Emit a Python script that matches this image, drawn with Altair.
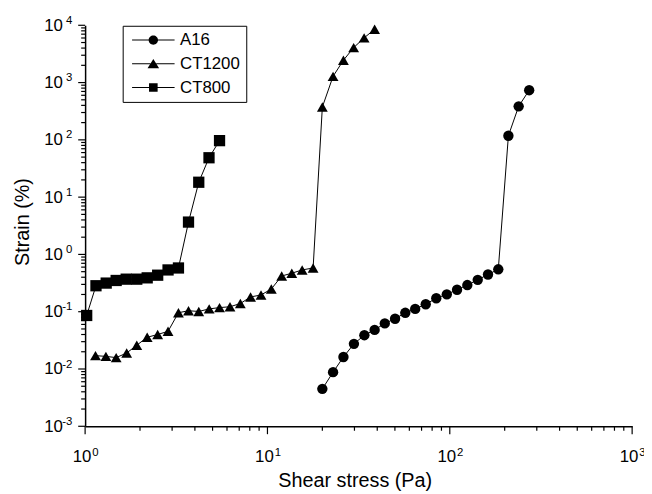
import altair as alt
import pandas as pd

# ---- data (shear stress in Pa, strain in %) ----
A16_x = [20.0, 22.9, 26.1, 29.8, 34.0, 38.7, 44.0, 50.1, 57.0, 64.6, 73.8, 84.3,
         96.3, 109.6, 124.8, 142.3, 162.0, 184.5, 209.6, 238.6, 272.5]
A16_y = [0.0045, 0.0088, 0.0162, 0.0275, 0.0389, 0.0481, 0.0625, 0.0754, 0.0957,
         0.112, 0.135, 0.172, 0.201, 0.242, 0.292, 0.36, 0.446, 0.55, 118, 385, 736]

CT1200_x = [1.14, 1.30, 1.48, 1.69, 1.92, 2.19, 2.50, 2.85, 3.25, 3.69, 4.20, 4.79,
            5.46, 6.23, 7.10, 8.08, 9.22, 10.5, 11.97, 13.6, 15.5, 17.8, 20.0,
            22.9, 26.1, 29.7, 33.9, 38.7]
CT1200_y = [0.0171, 0.0166, 0.0158, 0.019, 0.026, 0.0358, 0.040, 0.0455, 0.096,
            0.104, 0.101, 0.112, 0.118, 0.122, 0.139, 0.181, 0.196, 0.249, 0.42,
            0.47, 0.536, 0.58, 374, 1285, 2455, 4070, 6030, 8510]

CT800_x = [1.02, 1.147, 1.305, 1.48, 1.68, 1.92, 2.19, 2.50, 2.85, 3.25, 3.69,
           4.20, 4.78, 5.46]
CT800_y = [0.086, 0.284, 0.316, 0.351, 0.37, 0.37, 0.39, 0.434, 0.536, 0.58,
           3.67, 18.2, 48.7, 96.9]

series_names = ["A16", "CT1200", "CT800"]

rows = []
for name, xs, ys in [("A16", A16_x, A16_y), ("CT1200", CT1200_x, CT1200_y),
                     ("CT800", CT800_x, CT800_y)]:
    for xv, yv in zip(xs, ys):
        rows.append({"series": name, "stress": xv, "strain": yv})
df = pd.DataFrame(rows)

x_major = [1.0, 10.0, 100.0, 1000.0]
y_major = [0.001, 0.01, 0.1, 1.0, 10.0, 100.0, 1000.0, 10000.0]
x_minor = [m * v for v in x_major[:-1] for m in range(2, 10)]
y_minor = [m * v for v in y_major[:-1] for m in range(2, 10)]

W, H = 553.3, 405.6
FONT = "Liberation Sans"
exp_expr = "'' + round(log(datum.value)/LN10)"

x_scale = alt.Scale(type="log", domain=[1, 1000], nice=False)
y_scale = alt.Scale(type="log", domain=[0.001, 10000], nice=False)

# axis with "10" labels, domain line and title (point layer)
x_major_axis = alt.Axis(orient="bottom", values=x_major, ticks=False, labelExpr="'10'",
                        labelFontSize=17, labelPadding=22.5, labelOffset=-3.6,
                        labelFlush=False, labelOverlap=False, grid=False,
                        title="Shear stress (Pa)", titleX=272.7, titleY=61,
                        titleBaseline="alphabetic", titleAlign="center")
y_major_axis = alt.Axis(orient="left", values=y_major, ticks=False, labelExpr="'10'",
                        labelFontSize=17, labelPadding=23, labelBaseline="middle",
                        labelOverlap=False, grid=False,
                        title="Strain (%)", titleX=-57.7, titleY=198.5,
                        titleBaseline="alphabetic", titleAlign="center", titleAngle=270)
# exponents (legend layer)
x_exp_axis = alt.Axis(orient="bottom", values=x_major, ticks=False,
                      domain=False, labelExpr=exp_expr, labelFontSize=11.5,
                      labelPadding=20.5, labelOffset=10, labelFlush=False,
                      labelOverlap=False, grid=False, title=None)
y_exp_axis = alt.Axis(orient="left", values=y_major, ticks=False,
                      domain=False, labelExpr=exp_expr, labelFontSize=11.5,
                      labelPadding=13.5, labelOffset=-5, labelBaseline="middle",
                      labelOverlap=False, grid=False, title=None)

lines = alt.Chart(df).mark_line(color="black", strokeWidth=1).encode(
    x=alt.X("stress:Q", scale=x_scale, axis=None),
    y=alt.Y("strain:Q", scale=y_scale, axis=None),
    detail="series:N",
)

points = alt.Chart(df).mark_point(filled=True, color="black", opacity=1).encode(
    x=alt.X("stress:Q", scale=x_scale, axis=x_major_axis),
    y=alt.Y("strain:Q", scale=y_scale, axis=y_major_axis),
    shape=alt.Shape("series:N", scale=alt.Scale(domain=series_names,
                    range=["circle", "triangle-up", "square"]), legend=None),
    size=alt.Size("series:N", scale=alt.Scale(domain=series_names,
                  range=[110, 130, 100]), legend=None),
)

# tick marks drawn through the shared log scales
x_tick_df = pd.DataFrame({"v": x_major + x_minor,
                          "major": [True] * len(x_major) + [False] * len(x_minor)})
y_tick_df = pd.DataFrame({"v": y_major + y_minor,
                          "major": [True] * len(y_major) + [False] * len(y_minor)})

x_ticks_major = alt.Chart(x_tick_df).transform_filter("datum.major").mark_rule(
    color="black", strokeWidth=1.2).encode(
    x=alt.X("v:Q", scale=x_scale, axis=None), y=alt.value(H), y2=alt.value(H + 8))
x_ticks_minor = alt.Chart(x_tick_df).transform_filter("!datum.major").mark_rule(
    color="black", strokeWidth=1.2).encode(
    x=alt.X("v:Q", scale=x_scale, axis=None), y=alt.value(H), y2=alt.value(H + 4.5))
y_ticks_major = alt.Chart(y_tick_df).transform_filter("datum.major").mark_rule(
    color="black", strokeWidth=1.2).encode(
    y=alt.Y("v:Q", scale=y_scale, axis=None), x=alt.value(0), x2=alt.value(-7))
y_ticks_minor = alt.Chart(y_tick_df).transform_filter("!datum.major").mark_rule(
    color="black", strokeWidth=1.2).encode(
    y=alt.Y("v:Q", scale=y_scale, axis=None), x=alt.value(0), x2=alt.value(-4))

# legend symbols: line segments drawn as thin filled bars + marker, all clockwise
seg = "M-1,-0.1L{a},-0.1L{a},0.1L-1,0.1ZM{b},-0.1L7.6,-0.1L7.6,0.1L{b},0.1Z"
legend_paths = [
    seg.format(a=2.36, b=4.24) + "M2.35,0A0.95,0.95,0,1,1,4.25,0A0.95,0.95,0,1,1,2.35,0Z",
    seg.format(a=2.7, b=3.9) + "M3.3,-1L4.47,0.9L2.13,0.9Z",
    seg.format(a=2.44, b=4.16) + "M2.43,-0.87L4.17,-0.87L4.17,0.87L2.43,0.87Z",
]

legend_layer = alt.Chart(df).transform_filter("datum.stress < 0").mark_point(
    filled=True, size=100, color="black", opacity=1
).encode(
    x=alt.X("stress:Q", scale=x_scale, axis=x_exp_axis),
    y=alt.Y("strain:Q", scale=y_scale, axis=y_exp_axis),
    shape=alt.Shape("series:N", scale=alt.Scale(domain=series_names, range=legend_paths),
                    legend=alt.Legend(
                        title=None, orient="none", legendX=38, legendY=0.5,
                        labelFont=FONT, labelFontSize=17, labelColor="black",
                        labelOffset=35, symbolSize=100, symbolFillColor="black",
                        strokeColor="black", padding=6, rowPadding=6,
                    )),
)

chart = alt.layer(
    x_ticks_major, x_ticks_minor, y_ticks_major, y_ticks_minor,
    lines, points, legend_layer,
).resolve_scale(
    shape="independent", size="independent"
).resolve_axis(x="independent", y="independent").properties(
    width=W, height=H,
    autosize=alt.AutoSizeParams(type="none"),
    padding={"left": 78, "top": 14.7, "right": 12, "bottom": 65},
).configure_view(stroke=None).configure_axis(
    domainColor="black", domainWidth=1.5,
    labelFont=FONT, labelColor="black",
    titleFont=FONT, titleFontSize=20, titleFontWeight="normal", titleColor="black",
)

chart.save("out.html", embed_options={"renderer": "svg", "actions": False})
